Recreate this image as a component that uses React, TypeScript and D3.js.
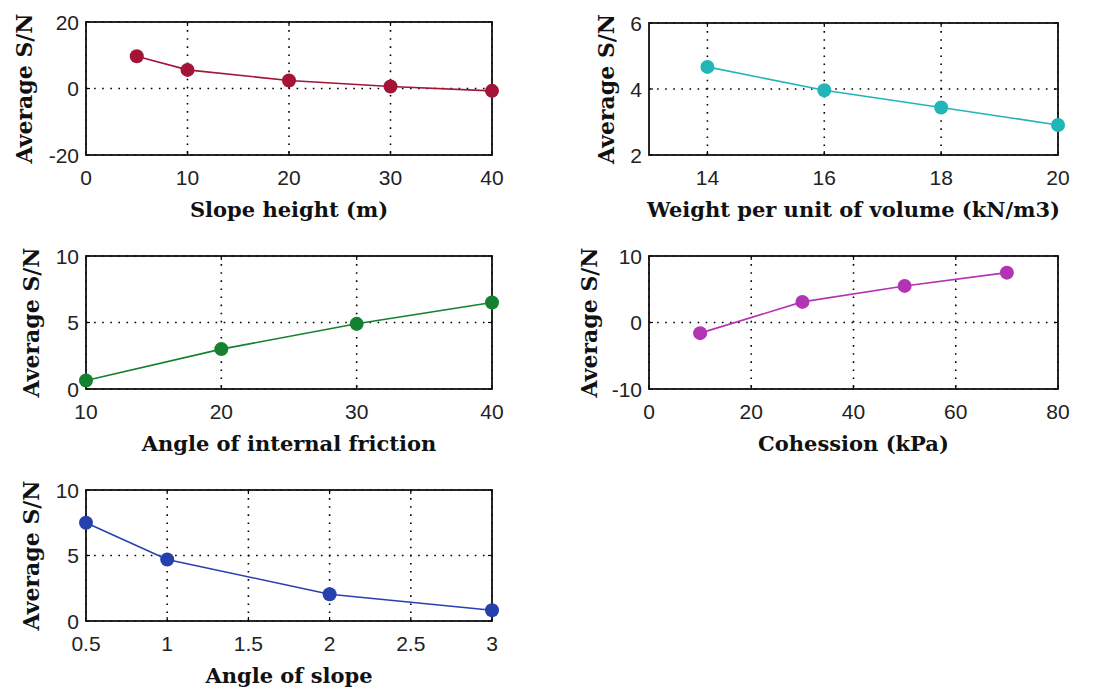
import React from 'react'
import * as d3 from 'd3'

// values
const slopeHeight = [5, 10, 20, 30, 40]
const slopeHeightSN = [9.7, 5.6, 2.4, 0.6, -0.7]
const unitWeight = [14, 16, 18, 20]
const unitWeightSN = [4.67, 3.96, 3.44, 2.91]
const frictionAngle = [10, 20, 30, 40]
const frictionAngleSN = [0.64, 3.0, 4.9, 6.5]
const cohesion = [10, 30, 50, 70]
const cohesionSN = [-1.6, 3.1, 5.5, 7.5]
const slopeAngle = [0.5, 1, 2, 3]
const slopeAngleSN = [7.5, 4.7, 2.04, 0.82]

const xTicks1 = [0, 10, 20, 30, 40]
const yTicks1 = [-20, 0, 20]
const xTicks2 = [14, 16, 18, 20]
const yTicks2 = [2, 4, 6]
const xTicks3 = [10, 20, 30, 40]
const yTicks3 = [0, 5, 10]
const xTicks4 = [0, 20, 40, 60, 80]
const yTicks4 = [-10, 0, 10]
const xTicks5 = [0.5, 1, 1.5, 2, 2.5, 3]
const yTicks5 = [0, 5, 10]
const tickLabels5 = ['0.5', '1', '1.5', '2', '2.5', '3']

const yTitle = 'Average S/N'

const panels = [
  { x: slopeHeight, y: slopeHeightSN, xDomain: [0, 40], yDomain: [-20, 20], xTicks: xTicks1, yTicks: yTicks1,
    xLabel: 'Slope height (m)', color: '#a31437', box: [86, 22, 492, 155], ylabOff: 62 },
  { x: unitWeight, y: unitWeightSN, xDomain: [13, 20], yDomain: [2, 6], xTicks: xTicks2, yTicks: yTicks2,
    xLabel: 'Weight per unit of volume (kN/m3)', color: '#22b5b8', box: [649, 23, 1058, 155], ylabOff: 43 },
  { x: frictionAngle, y: frictionAngleSN, xDomain: [10, 40], yDomain: [0, 10], xTicks: xTicks3, yTicks: yTicks3,
    xLabel: 'Angle of internal friction', color: '#13812f', box: [86, 256, 492, 389], ylabOff: 55 },
  { x: cohesion, y: cohesionSN, xDomain: [0, 80], yDomain: [-10, 10], xTicks: xTicks4, yTicks: yTicks4,
    xLabel: 'Cohession (kPa)', color: '#b233b3', box: [649, 256, 1058, 389], ylabOff: 60 },
  { x: slopeAngle, y: slopeAngleSN, xDomain: [0.5, 3], yDomain: [0, 10], xTicks: xTicks5, yTicks: yTicks5,
    xLabel: 'Angle of slope', color: '#2641ae', box: [86, 490, 492, 621], ylabOff: 55, tickText: tickLabels5 },
]

const tickFont = "'Liberation Sans', Arial, sans-serif"
const labelFont = "'DejaVu Serif', serif"

function Panel({ p }: { p: any }) {
  const [l, t, r, b] = p.box
  const x = d3.scaleLinear().domain(p.xDomain).range([l, r])
  const y = d3.scaleLinear().domain(p.yDomain).range([b, t])
  const pts = p.x.map((v: number, i: number) => [v, p.y[i]])
  const line = d3.line<any>().x(d => x(d[0])).y(d => y(d[1]))
  const fmt = (v: number, i: number) => (p.tickText ? p.tickText[i] : String(v))
  return (
    <g>
      {/* grid */}
      {p.xTicks.map((v: number) => (
        <line key={'gx' + v} x1={x(v)} x2={x(v)} y1={t} y2={b} stroke="#000" strokeWidth={1.6} strokeDasharray="1.6,6.5" />
      ))}
      {p.yTicks.map((v: number) => (
        <line key={'gy' + v} x1={l} x2={r} y1={y(v)} y2={y(v)} stroke="#000" strokeWidth={1.6} strokeDasharray="1.6,6.5" />
      ))}
      {/* inside ticks */}
      {p.xTicks.map((v: number) => (
        <g key={'tx' + v}>
          <line x1={x(v)} x2={x(v)} y1={b} y2={b - 4} stroke="#000" strokeWidth={1.2} />
          <line x1={x(v)} x2={x(v)} y1={t} y2={t + 4} stroke="#000" strokeWidth={1.2} />
        </g>
      ))}
      {p.yTicks.map((v: number) => (
        <g key={'ty' + v}>
          <line x1={l} x2={l + 4} y1={y(v)} y2={y(v)} stroke="#000" strokeWidth={1.2} />
          <line x1={r} x2={r - 4} y1={y(v)} y2={y(v)} stroke="#000" strokeWidth={1.2} />
        </g>
      ))}
      <rect x={l} y={t} width={r - l} height={b - t} fill="none" stroke="#111" strokeWidth={1.8} />
      {/* series */}
      <path d={line(pts) || ''} fill="none" stroke={p.color} strokeWidth={1.6} />
      {pts.map((d: number[], i: number) => (
        <circle key={i} cx={x(d[0])} cy={y(d[1])} r={7} fill={p.color} />
      ))}
      {/* tick labels */}
      {p.xTicks.map((v: number, i: number) => (
        <text key={'lx' + v} x={x(v)} y={b + 30} textAnchor="middle" fontFamily={tickFont} fontSize={21} fill="#222">
          {fmt(v, i)}
        </text>
      ))}
      {p.yTicks.map((v: number) => (
        <text key={'ly' + v} x={l - 7} y={y(v)} dy="0.36em" textAnchor="end" fontFamily={tickFont} fontSize={21} fill="#222">
          {String(v)}
        </text>
      ))}
      {/* axis titles */}
      <text x={(l + r) / 2} y={b + 62} textAnchor="middle" fontFamily={labelFont} fontWeight="bold" fontSize={21} fill="#111">
        {p.xLabel}
      </text>
      <text transform={`translate(${l - p.ylabOff},${(t + b) / 2}) rotate(-90)`} dy="0.35em" textAnchor="middle"
        fontFamily={labelFont} fontWeight="bold" fontSize={22} fill="#111">
        {yTitle}
      </text>
    </g>
  )
}

export default function App() {
  return (
    <div style={{ position: 'absolute', left: 0, top: 0 }}>
      <svg width={1100} height={698} style={{ display: 'block', background: '#fff' }}>
        {panels.map((p, i) => <Panel key={i} p={p} />)}
      </svg>
    </div>
  )
}
